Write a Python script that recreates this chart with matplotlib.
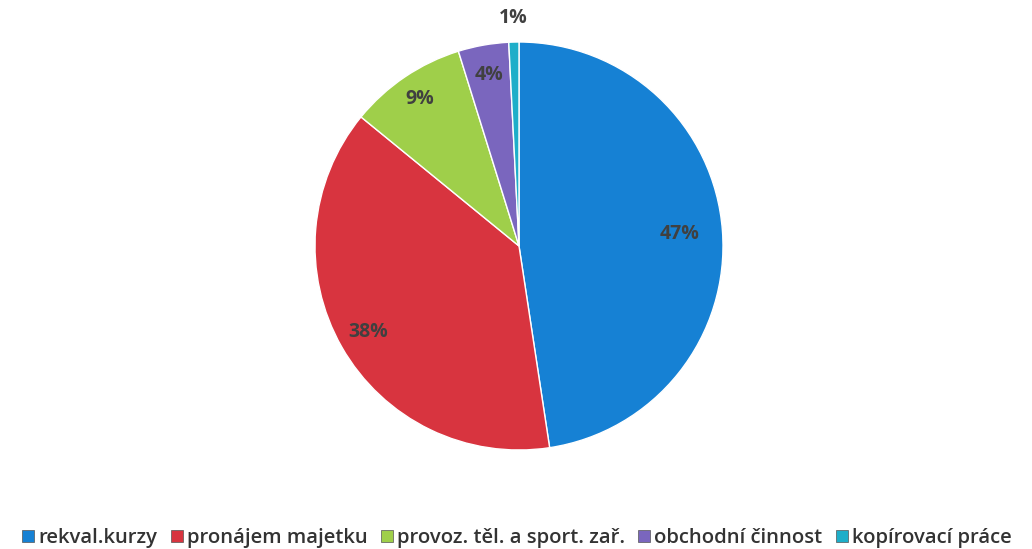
import matplotlib
matplotlib.use("Agg")
import matplotlib.pyplot as plt
from matplotlib.lines import Line2D
import numpy as np

categories = ["rekval.kurzy", "pronájem majetku", "provoz. těl. a sport. zař.",
              "obchodní činnost", "kopírovací práce"]
values = [47.6, 38.3, 9.3, 4.0, 0.8]
labels = ["47%", "38%", "9%", "4%", "1%"]
colors = ["#1681d4", "#d8343f", "#9fcf4a", "#7a66be", "#1eaec9"]
label_r = [0.79, 0.85, 0.87, 0.85, 1.12]

W, H = 1032, 549
fig = plt.figure(figsize=(W / 100, H / 100), dpi=100)
R = 204
cx, cy = 519, 246
half = 1.3 * R
ax = fig.add_axes([(cx - half) / W, (H - cy - half) / H, 2 * half / W, 2 * half / H])

wedges, _ = ax.pie(values, colors=colors, startangle=90, counterclock=False,
                   wedgeprops=dict(edgecolor="white", linewidth=1.0))
ax.set_xlim(-1.3, 1.3)
ax.set_ylim(-1.3, 1.3)
ax.set_aspect("equal")
ax.axis("off")

for w, lab, r in zip(wedges, labels, label_r):
    ang = np.deg2rad((w.theta1 + w.theta2) / 2)
    ax.text(r * np.cos(ang), r * np.sin(ang), lab, ha="center", va="center",
            fontsize=14, fontweight="bold", color="#404040", family="Open Sans")

handles = [Line2D([], [], marker="s", linestyle="none", markersize=9,
                  markerfacecolor=c, markeredgecolor="#555555", markeredgewidth=0.5)
           for c in colors]
fig.legend(handles, categories, loc="lower center", bbox_to_anchor=(0.5, -0.032),
           ncol=5, frameon=False, handletextpad=0.1, columnspacing=0.55,
           handlelength=0.8,
           prop={"family": "Open Sans", "size": 14.6, "weight": "semibold"},
           labelcolor="#333333")

fig.savefig("out.png", dpi=100, facecolor="white")
